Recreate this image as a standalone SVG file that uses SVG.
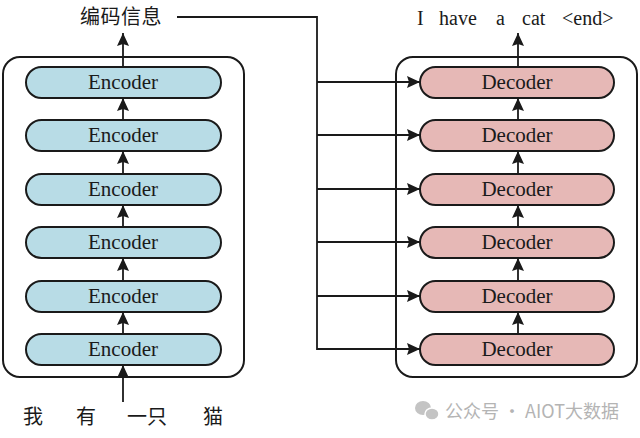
<svg xmlns="http://www.w3.org/2000/svg" width="640" height="438" viewBox="0 0 640 438">
<defs>
<style>
.box{fill:none;stroke:#1a1a1a;stroke-width:2}
.enc{fill:#b8dce6;stroke:#1a1a1a;stroke-width:2}
.dec{fill:#e6b8b6;stroke:#1a1a1a;stroke-width:2}
.lbl{font-family:"Liberation Serif","Times New Roman",serif;font-size:21px;fill:#1a1a1a;text-anchor:middle}
.cn{font-family:"Noto Sans CJK SC","Noto Sans",sans-serif;font-size:20px;fill:#1a1a1a}
.out{font-family:"Liberation Serif","Times New Roman",serif;font-size:20px;fill:#1a1a1a}
.ln{fill:none;stroke:#1a1a1a;stroke-width:1.8}
.wm{font-family:"Noto Sans CJK SC","Noto Sans",sans-serif;font-size:18px;fill:#b4b4b4}
</style>
<marker id="ahb" viewBox="0 0 13 12" refX="13" refY="6" markerWidth="13" markerHeight="12" orient="auto" markerUnits="userSpaceOnUse">
<path d="M0,0 L13,6 L0,12 L2,6 z" fill="#1a1a1a"/>
</marker>
</defs>
<rect width="640" height="438" fill="#ffffff"/>

<g id="encoder-stack">
<rect class="box" x="3" y="57" width="241" height="320" rx="17"/>
</g>
<g id="decoder-stack">
<rect class="box" x="396" y="57" width="241" height="320" rx="17"/>
</g>

<g id="enc1"><rect class="enc" x="26" y="67" width="195" height="31" rx="15.5"/><text class="lbl" x="123" y="89">Encoder</text></g>
<g id="enc2"><rect class="enc" x="26" y="120" width="195" height="31" rx="15.5"/><text class="lbl" x="123" y="142">Encoder</text></g>
<g id="enc3"><rect class="enc" x="26" y="174" width="195" height="31" rx="15.5"/><text class="lbl" x="123" y="196">Encoder</text></g>
<g id="enc4"><rect class="enc" x="26" y="227" width="195" height="31" rx="15.5"/><text class="lbl" x="123" y="249">Encoder</text></g>
<g id="enc5"><rect class="enc" x="26" y="281" width="195" height="31" rx="15.5"/><text class="lbl" x="123" y="303">Encoder</text></g>
<g id="enc6"><rect class="enc" x="26" y="334" width="195" height="31" rx="15.5"/><text class="lbl" x="123" y="356">Encoder</text></g>

<g id="dec1"><rect class="dec" x="420" y="67" width="194" height="31" rx="15.5"/><text class="lbl" x="517" y="89">Decoder</text></g>
<g id="dec2"><rect class="dec" x="420" y="120" width="194" height="31" rx="15.5"/><text class="lbl" x="517" y="142">Decoder</text></g>
<g id="dec3"><rect class="dec" x="420" y="174" width="194" height="31" rx="15.5"/><text class="lbl" x="517" y="196">Decoder</text></g>
<g id="dec4"><rect class="dec" x="420" y="227" width="194" height="31" rx="15.5"/><text class="lbl" x="517" y="249">Decoder</text></g>
<g id="dec5"><rect class="dec" x="420" y="281" width="194" height="31" rx="15.5"/><text class="lbl" x="517" y="303">Decoder</text></g>
<g id="dec6"><rect class="dec" x="420" y="334" width="194" height="31" rx="15.5"/><text class="lbl" x="517" y="356">Decoder</text></g>

<g id="input-text">
<text class="cn" x="23" y="424">我</text>
<text class="cn" x="76" y="424">有</text>
<text class="cn" x="127" y="424">一只</text>
<text class="cn" x="203" y="424">猫</text>
</g>
<g id="encoded-label"><text class="cn" x="80" y="24" font-size="21px" letter-spacing="0.5">编码信息</text></g>
<g id="output-text">
<text class="out" x="417" y="25">I</text>
<text class="out" x="439" y="25">have</text>
<text class="out" x="496" y="25">a</text>
<text class="out" x="522" y="25">cat</text>
<text class="out" x="562" y="25">&lt;end&gt;</text>
</g>

<g id="connectors">
<line class="ln" x1="123" y1="402" x2="123" y2="365" marker-end="url(#ahb)"/>
<line class="ln" x1="123" y1="334" x2="123" y2="312" marker-end="url(#ahb)"/>
<line class="ln" x1="123" y1="281" x2="123" y2="258" marker-end="url(#ahb)"/>
<line class="ln" x1="123" y1="227" x2="123" y2="205" marker-end="url(#ahb)"/>
<line class="ln" x1="123" y1="174" x2="123" y2="151" marker-end="url(#ahb)"/>
<line class="ln" x1="123" y1="120" x2="123" y2="98" marker-end="url(#ahb)"/>
<line class="ln" x1="123" y1="67" x2="123" y2="33" marker-end="url(#ahb)"/>

<line class="ln" x1="518" y1="334" x2="518" y2="312" marker-end="url(#ahb)"/>
<line class="ln" x1="518" y1="281" x2="518" y2="258" marker-end="url(#ahb)"/>
<line class="ln" x1="518" y1="227" x2="518" y2="205" marker-end="url(#ahb)"/>
<line class="ln" x1="518" y1="174" x2="518" y2="151" marker-end="url(#ahb)"/>
<line class="ln" x1="518" y1="120" x2="518" y2="98" marker-end="url(#ahb)"/>
<line class="ln" x1="518" y1="67" x2="518" y2="33" marker-end="url(#ahb)"/>

<polyline class="ln" points="177,17 317,17 317,349 420,349" marker-end="url(#ahb)"/>
<line class="ln" x1="317" y1="82" x2="420" y2="82" marker-end="url(#ahb)"/>
<line class="ln" x1="317" y1="135" x2="420" y2="135" marker-end="url(#ahb)"/>
<line class="ln" x1="317" y1="189" x2="420" y2="189" marker-end="url(#ahb)"/>
<line class="ln" x1="317" y1="242" x2="420" y2="242" marker-end="url(#ahb)"/>
<line class="ln" x1="317" y1="296" x2="420" y2="296" marker-end="url(#ahb)"/>
</g>

<g id="watermark">
<ellipse cx="423" cy="408" rx="8" ry="7" fill="#c4c4c4"/>
<ellipse cx="432" cy="414" rx="7" ry="6" fill="#c4c4c4" stroke="#fff" stroke-width="1.5"/>
<text class="wm" x="445" y="418">公众号 · AIOT大数据</text>
</g>
</svg>
